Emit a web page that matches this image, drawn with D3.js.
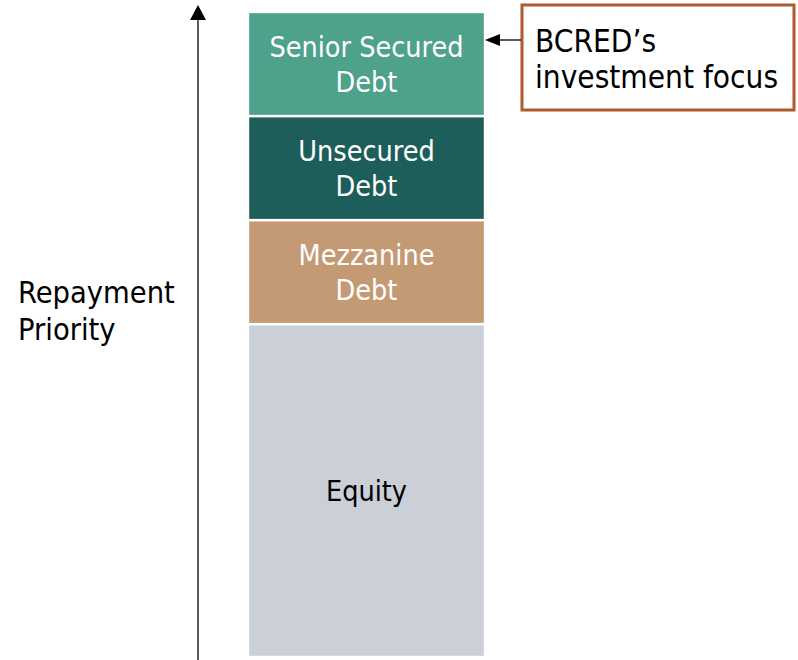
<!DOCTYPE html>
<html><head><meta charset="utf-8">
<script src="https://cdn.jsdelivr.net/npm/d3@7"></script>
<style>body{margin:0;background:#fff}svg{display:block}</style>
</head><body>
<script>
const categories = ["Capital Structure"];
const segments = ["Equity", "Mezzanine Debt", "Unsecured Debt", "Senior Secured Debt"];
const segmentLines = [["Equity"], ["Mezzanine", "Debt"], ["Unsecured", "Debt"], ["Senior Secured", "Debt"]];
const segmentValues = [3.2, 1, 1, 1];
const segmentColors = ["#cbcfd8", "#c49a75", "#1d5e5a", "#4ea18b"];
const axisLabel = ["Repayment", "Priority"];
const calloutLines = ["BCRED\u2019s", "investment focus"];
const focusSegment = "Senior Secured Debt";

const W = 798, H = 660;
const font = "'DejaVu Sans Condensed', 'DejaVu Sans', sans-serif";
const svg = d3.select("body").append("svg").attr("width", W).attr("height", H);

const x = d3.scaleBand().domain(categories).range([248, 485]).padding(0);
const total = d3.sum(segmentValues);
const y = d3.scaleLinear().domain([0, total]).range([657, 12]);

let acc = 0;
const stacked = segments.map((s, i) => {
  const d = {name: s, lines: segmentLines[i], y0: acc, y1: acc + segmentValues[i], color: segmentColors[i]};
  acc += segmentValues[i];
  return d;
});

const g = svg.append("g");
g.selectAll("rect").data(stacked).join("rect")
  .attr("x", x(categories[0]))
  .attr("width", x.bandwidth())
  .attr("y", d => y(d.y1))
  .attr("height", d => y(d.y0) - y(d.y1))
  .attr("fill", d => d.color)
  .attr("stroke", "#fff").attr("stroke-width", 2.4);

const fs = 28.5;
stacked.forEach(d => {
  const cy = (y(d.y0) + y(d.y1)) / 2;
  const n = d.lines.length;
  const lh = 35;
  d.lines.forEach((t, j) => {
    g.append("text")
      .attr("x", x(categories[0]) + x.bandwidth() / 2)
      .attr("y", cy + (j - (n - 1) / 2) * lh + 10.5)
      .attr("text-anchor", "middle")
      .attr("fill", d.name === "Equity" ? "#000" : "#fff")
      .attr("font-family", font).attr("font-size", fs)
      .text(t);
  });
});

// priority axis arrow
svg.append("line").attr("x1", 198).attr("x2", 198).attr("y1", 660).attr("y2", 16)
  .attr("stroke", "#333").attr("stroke-width", 1.6);
svg.append("path").attr("d", "M198,5 L190,20 L206,20 Z").attr("fill", "#000");

axisLabel.forEach((t, i) => {
  svg.append("text").attr("x", 18).attr("y", 303 + i * 37)
    .attr("font-family", font).attr("font-size", 30.5).attr("fill", "#000").text(t);
});

// callout
const focus = stacked.find(d => d.name === focusSegment);
const ay = 40;
svg.append("rect").attr("x", 522).attr("y", 5).attr("width", 272).attr("height", 105)
  .attr("fill", "#fff").attr("stroke", "#b05a2e").attr("stroke-width", 3);
svg.append("line").attr("x1", 521).attr("x2", 498).attr("y1", ay).attr("y2", ay)
  .attr("stroke", "#000").attr("stroke-width", 1.3);
svg.append("path").attr("d", `M${x(categories[0]) + x.bandwidth()},${ay} L500,${ay - 6} L500,${ay + 6} Z`).attr("fill", "#000");
calloutLines.forEach((t, i) => {
  svg.append("text").attr("x", 535).attr("y", 52 + i * 36)
    .attr("font-family", font).attr("font-size", 31.3).attr("fill", "#000").text(t);
});
</script>
</body></html>
